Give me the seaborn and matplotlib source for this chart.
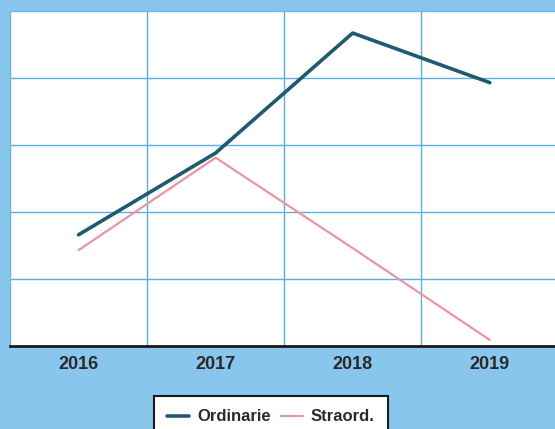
import numpy as np
import pandas as pd
import matplotlib
matplotlib.use("Agg")
import matplotlib.pyplot as plt
import seaborn as sns

years = [2016, 2017, 2018, 2019]
ordinarie = [1.66, 2.88, 4.67, 3.93]
straord = [1.43, 2.81, 1.46, 0.09]
series_names = ["Ordinarie", "Straord."]
palette = {"Ordinarie": "#1f5b6f", "Straord.": "#e8979f"}

df = pd.DataFrame({
    "anno": years * 2,
    "valore": ordinarie + straord,
    "serie": [series_names[0]] * len(years) + [series_names[1]] * len(years),
})

sns.set_style("white")
plt.rcParams["font.family"] = ["Liberation Sans", "DejaVu Sans"]

bg = "#88c6ee"
grid_col = "#5aaee0"

fig = plt.figure(figsize=(5.55, 4.29), dpi=100, facecolor=bg)
ax = fig.add_axes([0.018, 0.1935, 0.988, 0.781])
ax.set_facecolor("white")

sns.lineplot(data=df, x="anno", y="valore", hue="serie", palette=palette,
             ax=ax, legend=False, estimator=None)
lines = ax.get_lines()
lines[0].set_linewidth(2.6)
lines[1].set_linewidth(1.6)

ax.set_xlim(years[0] - 0.5, years[-1] + 0.5)
ax.set_ylim(0, 5)
ax.set_xticks(years)
ax.set_xticklabels([str(y) for y in years], fontsize=13, fontweight="bold",
                   color="#2a2a2a")
ax.set_xticks([y + 0.5 for y in years[:-1]], minor=True)
ax.set_yticks([1, 2, 3, 4])
ax.set_yticklabels([])
ax.tick_params(axis="both", which="both", length=0)
ax.tick_params(axis="x", pad=7)
ax.grid(True, which="minor", axis="x", color=grid_col, lw=1.0)
ax.grid(True, which="major", axis="y", color=grid_col, lw=1.0)
ax.set_xlabel("")
ax.set_ylabel("")
ax.set_axisbelow(True)
for side in ["top", "left", "right"]:
    ax.spines[side].set_color("#6fb6e6")
    ax.spines[side].set_linewidth(1.0)
ax.spines["bottom"].set_color("#1a1a1a")
ax.spines["bottom"].set_linewidth(2.0)

handles = [plt.Line2D([], [], color=palette[n], lw=2.6 if i == 0 else 1.6)
           for i, n in enumerate(series_names)]
leg = fig.legend(handles, series_names, loc="upper center",
                 bbox_to_anchor=(271 / 555, 1 - 396 / 429), ncol=2,
                 frameon=True, fancybox=False, framealpha=1,
                 handlelength=1.3, handletextpad=0.5, columnspacing=0.6,
                 borderpad=0.8, borderaxespad=0,
                 prop={"size": 12, "weight": "bold"})
leg.get_frame().set_edgecolor("#1a1a1a")
leg.get_frame().set_facecolor("white")
leg.get_frame().set_linewidth(1.5)
for t in leg.get_texts():
    t.set_color("#2a2a2a")

fig.savefig("out.png", dpi=100, facecolor=bg)
